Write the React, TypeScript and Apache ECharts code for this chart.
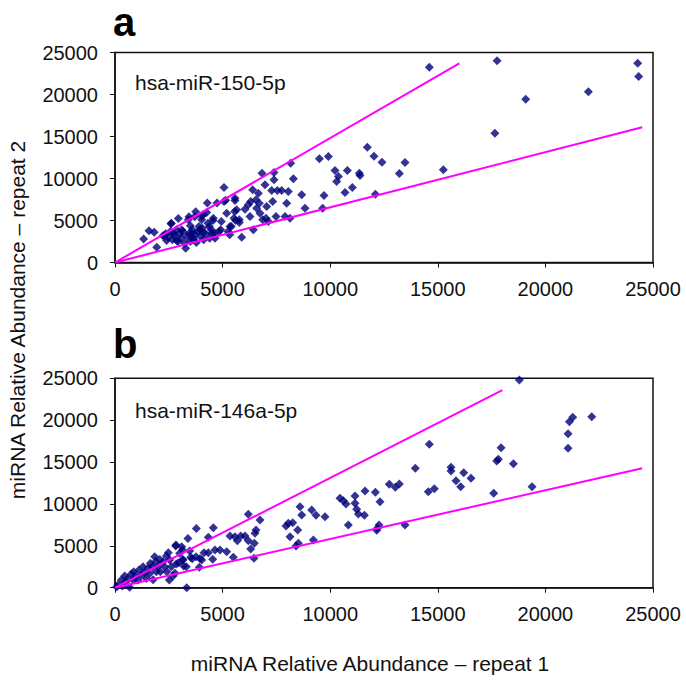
import React, { useEffect, useRef } from "react";
import * as echarts from "echarts";

// Panel a: hsa-miR-150-5p  [repeat 1, repeat 2]
const pointsA: number[][] = [
  [1330, 2790], [1580, 3780], [1820, 3600], [1940, 1830],
  [2230, 3180], [2290, 3180], [2355, 3420], [2400, 2620], [2463, 3020], [2572, 3694], [2602, 4607], [2618, 4687],
  [2665, 2703], [2711, 3492], [2773, 3179], [2850, 3893], [2866, 2619], [2928, 2504], [2943, 5238], [3005, 3417],
  [3082, 2901], [3098, 3889], [3160, 3694], [3237, 2306], [3284, 1711], [3346, 3100], [3408, 5079], [3439, 3417],
  [3439, 5441], [3501, 2504], [3501, 4370], [3563, 3492], [3594, 3893], [3625, 2901], [3641, 2698], [3702, 3298],
  [3702, 5441], [3749, 6031], [3780, 2385], [3857, 3694], [3904, 4290], [3950, 3889], [3966, 3100], [4027, 5520],
  [4028, 5079], [4058, 4091], [4089, 5679], [4105, 3571], [4120, 2703], [4213, 3417], [4260, 5952], [4291, 7069],
  [4321, 4687], [4384, 4285], [4399, 2901], [4476, 3893], [4492, 3492], [4554, 5004], [4570, 5277], [4631, 3496],
  [4647, 2896], [4740, 7069], [4833, 3694], [4910, 3889], [4941, 4885], [5065, 8928], [5065, 7261], [5143, 7424],
  [5189, 5873], [5251, 3694], [5329, 3298], [5344, 4285], [5406, 4290], [5530, 5277], [5561, 6075], [5576, 7658],
  [5576, 7386], [5608, 5004], [5654, 6274], [5778, 4762], [5778, 5083], [5886, 3016], [6041, 6349], [6196, 6865],
  [6273, 5476], [6304, 7266], [6397, 8655], [6428, 3889], [6552, 7465], [6583, 6472], [6661, 8253], [6707, 7068],
  [6738, 5877], [6831, 10634], [6862, 5083], [6971, 9245], [7017, 5281], [7048, 6666], [7126, 4880], [7280, 8571],
  [7327, 7261], [7389, 10714], [7389, 9841], [7482, 5480], [7544, 8571], [7745, 8571], [7900, 5476], [7977, 7063],
  [8055, 8452], [8133, 5277], [8164, 11825], [8288, 9960], [8675, 8055], [8830, 6468], [9496, 12341], [9651, 6468],
  [9713, 7980], [9914, 12619], [10224, 10952], [10301, 9642], [10379, 10238], [10688, 8333], [10797, 10952],
  [11029, 8928], [11354, 10634], [11385, 10357], [11726, 13730], [12036, 12658], [12098, 8134], [12407, 11944],
  [13213, 10595], [13476, 11904], [14606, 23253], [15257, 11031], [17652, 15396], [17753, 24007], [19085, 19443],
  [21997, 20316], [24288, 23729], [24335, 22142],
];

// Panel b: hsa-miR-146a-5p  [repeat 1, repeat 2]
const pointsB: number[][] = [
  [80, 100], [140, 320], [295, 920], [340, 200], [450, 1390], [500, 710], [600, 1110], [680, 50], [760, 1640],
  [840, 920], [870, 1910], [960, 1390], [1070, 920], [1115, 2110], [1225, 1510], [1300, 2510], [1380, 1790],
  [1455, 1110], [1530, 2310], [1610, 1710], [1640, 2910], [1735, 2510], [1770, 960], [1845, 3700], [1890, 3110],
  [1920, 1910], [2000, 2510], [2080, 3380], [2105, 1910], [2230, 3110], [2310, 2510], [2385, 3780], [2415, 1910],
  [2478, 4179], [2525, 915], [2540, 3310], [2620, 2510], [2695, 1390], [2788, 1711], [2820, 4980], [2835, 5094],
  [2850, 2830], [2943, 2985], [3005, 4100], [3098, 4895], [3144, 4497], [3144, 3303], [3160, 3380], [3190, 2590],
  [3315, 2510], [3330, 0], [3390, 5860], [3470, 4380], [3516, 3622], [3590, 3470], [3764, 3701], [3780, 7080],
  [3919, 2428], [3950, 3494], [4027, 3303], [4136, 4179], [4337, 6012], [4337, 4179], [4539, 3383], [4570, 7150],
  [4647, 4497], [4880, 4497], [5189, 4298], [5344, 6169], [5499, 3622], [5576, 6089], [5685, 5612], [5840, 6169],
  [6041, 6169], [6196, 5612], [6196, 8756], [6304, 4617], [6475, 5293], [6506, 6487], [6459, 3502], [6552, 6885],
  [6738, 8079], [7946, 7363], [8055, 7681], [8133, 6089], [8257, 7761], [8411, 4975], [8489, 6885], [8520, 5293],
  [8597, 9671], [8675, 8676], [9139, 9273], [9217, 5691], [9340, 8636], [9759, 8477], [10456, 10666],
  [10611, 10388], [10735, 9990], [10843, 7482], [11153, 10945], [11153, 10069], [11230, 9353], [11308, 8796],
  [11587, 8637], [11618, 11542], [12098, 11383], [12160, 6846], [12191, 7084], [12268, 7482], [12315, 10268],
  [12748, 12338], [13027, 11980], [13213, 12378], [13476, 7482], [13956, 14248], [14560, 11462], [14606, 17114],
  [14839, 11821], [15614, 14368], [15614, 13930], [15846, 12776], [16063, 12059], [16203, 13731], [16544, 13054],
  [17597, 11263], [17737, 15124], [17815, 15323], [17939, 16716], [18512, 14806], [18791, 24795], [19380, 12059],
  [21053, 16636], [21053, 18388], [21115, 19820], [21270, 20338], [22153, 20417],
];

// Reference lines (start, end)
const upperA: number[][] = [[0, 0], [16000, 23700]];
const lowerA: number[][] = [[0, 0], [24500, 16100]];
const upperB: number[][] = [[0, 0], [18000, 23600]];
const lowerB: number[][] = [[0, 0], [24500, 14250]];

const axisMax = 25000;
const axisStep = 5000;
const panelLabels = ["a", "b"];
const mirLabels = ["hsa-miR-150-5p", "hsa-miR-146a-5p"];
const xTitle = "miRNA Relative Abundance \u2013 repeat 1";
const yTitle = "miRNA Relative Abundance \u2013 repeat 2";

const FONT = "'Liberation Sans', Arial, sans-serif";

export default function App() {
  const ref = useRef<HTMLDivElement>(null);
  useEffect(() => {
    if (!ref.current) return;
    const chart = echarts.init(ref.current, null, { renderer: "svg" });
    const grids = [
      { left: 115, top: 52.5, width: 538, height: 210 },
      { left: 115, top: 378.3, width: 538, height: 209.4 },
    ];
    const fmt = (v: number) => String(v);
    const mkX = (i: number) => ({
      type: "value",
      gridIndex: i,
      min: 0,
      max: axisMax,
      interval: axisStep,
      splitLine: { show: false },
      axisLine: { show: true, onZero: false, lineStyle: { color: "#111", width: 1.5 } },
      axisTick: { show: true, inside: false, length: 5, lineStyle: { color: "#111", width: 1 } },
      axisLabel: { color: "#111", fontSize: 20, fontFamily: FONT, margin: 16, formatter: fmt },
    });
    const mkY = (i: number) => ({
      type: "value",
      gridIndex: i,
      min: 0,
      max: axisMax,
      interval: axisStep,
      splitLine: { show: false },
      axisLine: { show: true, onZero: false, lineStyle: { color: "#111", width: 1.5 } },
      axisTick: { show: true, inside: false, length: 5, lineStyle: { color: "#111", width: 1 } },
      axisLabel: { color: "#111", fontSize: 20, fontFamily: FONT, margin: 17, formatter: fmt },
    });
    const scatter = (i: number, data: number[][]) => ({
      type: "scatter",
      xAxisIndex: i,
      yAxisIndex: i,
      data,
      symbol: "diamond",
      symbolSize: 9,
      itemStyle: { color: "#00007a" },
      clip: false,
      z: 2,
    });
    const line = (i: number, data: number[][]) => ({
      type: "line",
      xAxisIndex: i,
      yAxisIndex: i,
      data,
      symbol: "none",
      lineStyle: { color: "#FF00FF", width: 2 },
      z: 3,
    });
    chart.setOption({
      animation: false,
      backgroundColor: "#ffffff",
      grid: grids.map((g) => ({
        ...g,
        show: true,
        borderColor: "#111",
        borderWidth: 1.5,
        backgroundColor: "#ffffff",
        containLabel: false,
      })),
      xAxis: [mkX(0), mkX(1)],
      yAxis: [mkY(0), mkY(1)],
      series: [
        scatter(0, pointsA),
        line(0, upperA),
        line(0, lowerA),
        scatter(1, pointsB),
        line(1, upperB),
        line(1, lowerB),
      ],
      graphic: [
        {
          type: "text",
          left: 113,
          top: 2,
          style: { text: panelLabels[0], font: `bold 40px ${FONT}`, fill: "#000" },
        },
        {
          type: "text",
          left: 113,
          top: 324,
          style: { text: panelLabels[1], font: `bold 40px ${FONT}`, fill: "#000" },
        },
        {
          type: "text",
          x: 135,
          y: 82,
          style: { text: mirLabels[0], font: `21px ${FONT}`, fill: "#111", verticalAlign: "middle" },
        },
        {
          type: "text",
          x: 135,
          y: 410,
          style: { text: mirLabels[1], font: `21px ${FONT}`, fill: "#111", verticalAlign: "middle" },
        },
        {
          type: "text",
          x: 370,
          y: 663,
          style: { text: xTitle, font: `21px ${FONT}`, fill: "#111", align: "center", verticalAlign: "middle" },
        },
        {
          type: "text",
          x: 17,
          y: 320,
          rotation: Math.PI / 2,
          style: { text: yTitle, font: `21px ${FONT}`, fill: "#111", align: "center", verticalAlign: "middle" },
        },
      ],
    });
    return () => chart.dispose();
  }, []);
  return <div ref={ref} style={{ width: 686, height: 681, position: "absolute", left: 0, top: 0 }} />;
}
